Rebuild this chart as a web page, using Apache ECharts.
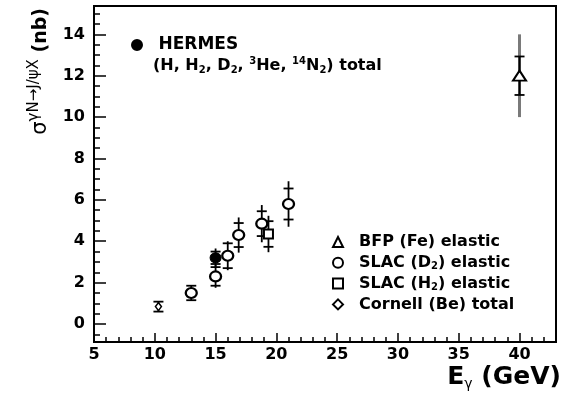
<!DOCTYPE html>
<html>
<head>
<meta charset="utf-8">
<script src="https://cdn.jsdelivr.net/npm/echarts@6/dist/echarts.min.js"></script>
<style>
  html, body { margin: 0; padding: 0; background: #fff; }
  #chart { width: 565px; height: 396px; }
</style>
</head>
<body>
<div id="chart"></div>
<script>
// J/psi photoproduction cross section (nb) versus photon energy E_gamma (GeV).
// Each measurement: energy, cross section, inner (statistical) error, total error.
const hermesName = 'HERMES';
const hermesE = [15.0];
const hermesSigma = [3.2];
const hermesStat = [0.3];
const hermesTot = [0.45];

const bfpName = 'BFP (Fe) elastic';
const bfpE = [40.0];
const bfpSigma = [12.0];
const bfpStat = [0.93];
const bfpTot = [2.0];

const slacD2Name = 'SLAC (D_2) elastic';
const slacD2E = [13.0, 15.0, 16.0, 16.9, 18.8, 21.0];
const slacD2Sigma = [1.5, 2.3, 3.3, 4.3, 4.85, 5.8];
const slacD2Stat = [0.35, 0.45, 0.6, 0.58, 0.6, 0.75];
const slacD2Tot = [0.35, 0.55, 0.7, 0.85, 0.9, 1.1];

const slacH2Name = 'SLAC (H_2) elastic';
const slacH2E = [19.35];
const slacH2Sigma = [4.35];
const slacH2Stat = [0.62];
const slacH2Tot = [0.88];

const cornellName = 'Cornell (Be) total';
const cornellE = [10.3];
const cornellSigma = [0.84];
const cornellStat = [0.24];
const cornellTot = [0.24];

// Axis ranges and tick values
const xMin = 5, xMax = 43;
const yMin = -0.87, yMax = 15.37;
const xMajorTicks = [5, 10, 15, 20, 25, 30, 35, 40];
const xMinorTicks = [6, 7, 8, 9, 11, 12, 13, 14, 16, 17, 18, 19, 21, 22, 23, 24,
                     26, 27, 28, 29, 31, 32, 33, 34, 36, 37, 38, 39, 41, 42];
const yMajorTicks = [0, 2, 4, 6, 8, 10, 12, 14];
const yMinorTicks = [-0.5, 0.5, 1, 1.5, 2.5, 3, 3.5, 4.5, 5, 5.5, 6.5, 7, 7.5,
                     8.5, 9, 9.5, 10.5, 11, 11.5, 12.5, 13, 13.5, 14.5, 15];

const FONT = 'DejaVu Sans';

function rows(e, s, st, tot) {
  return e.map((v, i) => [v, s[i], st[i], tot[i]]);
}

// Vertical error bar: line over the total error, short caps at the inner error.
function errorBarRenderer(outerColor) {
  return function (params, api) {
    const x = api.value(0), y = api.value(1);
    const st = api.value(2), tot = api.value(3);
    const lo = api.coord([x, y - tot]), hi = api.coord([x, y + tot]);
    const sLo = api.coord([x, y - st]), sHi = api.coord([x, y + st]);
    const half = 5;
    const children = [];
    if (outerColor) {
      children.push({ type: 'line', shape: { x1: lo[0], y1: lo[1], x2: hi[0], y2: hi[1] },
                      style: { stroke: outerColor, lineWidth: 3 } });
      children.push({ type: 'line', shape: { x1: sLo[0], y1: sLo[1], x2: sHi[0], y2: sHi[1] },
                      style: { stroke: '#000', lineWidth: 2 } });
    } else {
      children.push({ type: 'line', shape: { x1: lo[0], y1: lo[1], x2: hi[0], y2: hi[1] },
                      style: { stroke: '#000', lineWidth: 1.8 } });
    }
    [sLo, sHi].forEach(p => {
      children.push({ type: 'line', shape: { x1: p[0] - half, y1: p[1], x2: p[0] + half, y2: p[1] },
                      style: { stroke: '#000', lineWidth: 1.8 } });
    });
    return { type: 'group', children };
  };
}

function errorSeries(data, outerColor) {
  return {
    type: 'custom', xAxisIndex: 0, yAxisIndex: 0, z: 2, silent: true,
    renderItem: errorBarRenderer(outerColor),
    encode: { x: 0, y: 1 },
    data
  };
}

function pointSeries(name, data, symbol, size, fill, borderWidth) {
  return {
    name, type: 'scatter', xAxisIndex: 0, yAxisIndex: 0, z: 3,
    symbol, symbolSize: size,
    itemStyle: { color: fill, borderColor: '#000', borderWidth, opacity: 1 },
    data: data.map(r => [r[0], r[1]])
  };
}

const hermesData = rows(hermesE, hermesSigma, hermesStat, hermesTot);
const bfpData = rows(bfpE, bfpSigma, bfpStat, bfpTot);
const d2Data = rows(slacD2E, slacD2Sigma, slacD2Stat, slacD2Tot);
const h2Data = rows(slacH2E, slacH2Sigma, slacH2Stat, slacH2Tot);
const cornellData = rows(cornellE, cornellSigma, cornellStat, cornellTot);

const tickLabel = { color: '#000', fontFamily: FONT, fontWeight: 'bold', fontSize: 16 };

// "_2" in a name is drawn as a subscript
const subStyle = { fontFamily: FONT, fontWeight: 'bold', fontSize: 10, lineHeight: 9,
                   verticalAlign: 'bottom' };
const supStyle = { fontFamily: FONT, fontWeight: 'bold', fontSize: 10, lineHeight: 9,
                   verticalAlign: 'top' };
const legendLabel = n => '{g| }' + n.replace(/_(\d)/g, '{d|$1}');

function legendText(size) {
  return {
    color: '#000', fontFamily: FONT, fontWeight: 'bold', fontSize: size, lineHeight: 18,
    rich: { g: { width: 11 }, d: subStyle }
  };
}

const option = {
  animation: false,
  backgroundColor: '#fff',
  grid: { left: 94, top: 6, right: 9, bottom: 54, show: true,
          borderColor: '#000', borderWidth: 2, backgroundColor: 'transparent' },
  xAxis: [
    { type: 'value', min: xMin, max: xMax, position: 'bottom',
      axisLine: { show: true, onZero: false, lineStyle: { color: '#000', width: 2 } },
      axisTick: { show: true, inside: true, length: 9, customValues: xMajorTicks,
                  lineStyle: { color: '#000', width: 1.5 } },
      axisLabel: Object.assign({ customValues: xMajorTicks, margin: 5 }, tickLabel),
      splitLine: { show: false } },
    { type: 'value', min: xMin, max: xMax, position: 'bottom',
      axisLine: { show: false, onZero: false },
      axisTick: { show: true, inside: true, length: 5, customValues: xMinorTicks,
                  lineStyle: { color: '#000', width: 1.5 } },
      axisLabel: { show: false }, splitLine: { show: false } }
  ],
  yAxis: [
    { type: 'value', min: yMin, max: yMax, position: 'left',
      axisLine: { show: true, onZero: false, lineStyle: { color: '#000', width: 2 } },
      axisTick: { show: true, inside: true, length: 12, customValues: yMajorTicks,
                  lineStyle: { color: '#000', width: 1.5 } },
      axisLabel: Object.assign({ customValues: yMajorTicks, margin: 9 }, tickLabel),
      splitLine: { show: false } },
    { type: 'value', min: yMin, max: yMax, position: 'left',
      axisLine: { show: false, onZero: false },
      axisTick: { show: true, inside: true, length: 6, customValues: yMinorTicks,
                  lineStyle: { color: '#000', width: 1.5 } },
      axisLabel: { show: false }, splitLine: { show: false } }
  ],
  legend: [
    { data: [hermesName], orient: 'vertical', left: 131, top: 36,
      itemWidth: 11, itemHeight: 10, padding: 0,
      formatter: legendLabel, textStyle: legendText(17), selectedMode: false },
    { data: [bfpName, slacD2Name, slacH2Name, cornellName], orient: 'vertical',
      left: 332, top: 233, itemGap: 2.8, itemWidth: 10, itemHeight: 10, padding: 0,
      formatter: legendLabel, textStyle: legendText(16), selectedMode: false }
  ],
  graphic: [
    { type: 'text', left: 153, top: 56,
      style: { text: '(H, H{d|2}, D{d|2}, {u|3}He, {u|14}N{d|2}) total', fill: '#000',
               fontFamily: FONT, fontWeight: 'bold', fontSize: 16, lineHeight: 19,
               rich: { d: subStyle, u: supStyle } } },
    { type: 'text', right: 4, bottom: 5,
      style: { text: 'E{s|γ} (GeV)', fill: '#000', fontFamily: FONT, fontWeight: 'bold',
               fontSize: 25, lineHeight: 28,
               rich: { s: { fontSize: 14, fontFamily: FONT,
                            lineHeight: 14, verticalAlign: 'bottom' } } } },
    { type: 'text', x: 39, y: 8, rotation: Math.PI / 2,
      style: { text: '{a|σ}{b|γN→J/ψX}{c| (nb)}', align: 'right', verticalAlign: 'middle',
               fill: '#000',
               rich: {
                 a: { fontFamily: FONT, fontSize: 21, lineHeight: 24,
                      verticalAlign: 'bottom' },
                 b: { fontFamily: FONT, fontSize: 15, lineHeight: 12, verticalAlign: 'top' },
                 c: { fontFamily: FONT, fontWeight: 'bold', fontSize: 19, lineHeight: 24,
                      verticalAlign: 'bottom' }
               } } }
  ],
  series: [
    errorSeries(bfpData, '#7a7a7a'),
    errorSeries(d2Data, null),
    errorSeries(h2Data, null),
    errorSeries(cornellData, null),
    errorSeries(hermesData, null),
    pointSeries(bfpName, bfpData, 'triangle', [13, 10], '#fff', 2),
    pointSeries(slacD2Name, d2Data, 'circle', [11, 10], '#fff', 2.2),
    pointSeries(slacH2Name, h2Data, 'rect', [9, 9], '#fff', 2),
    pointSeries(cornellName, cornellData, 'diamond', [6, 8], '#fff', 1.5),
    pointSeries(hermesName, hermesData, 'circle', [11, 10], '#000', 1)
  ]
};

const chart = echarts.init(document.getElementById('chart'));
chart.setOption(option);
</script>
</body>
</html>
